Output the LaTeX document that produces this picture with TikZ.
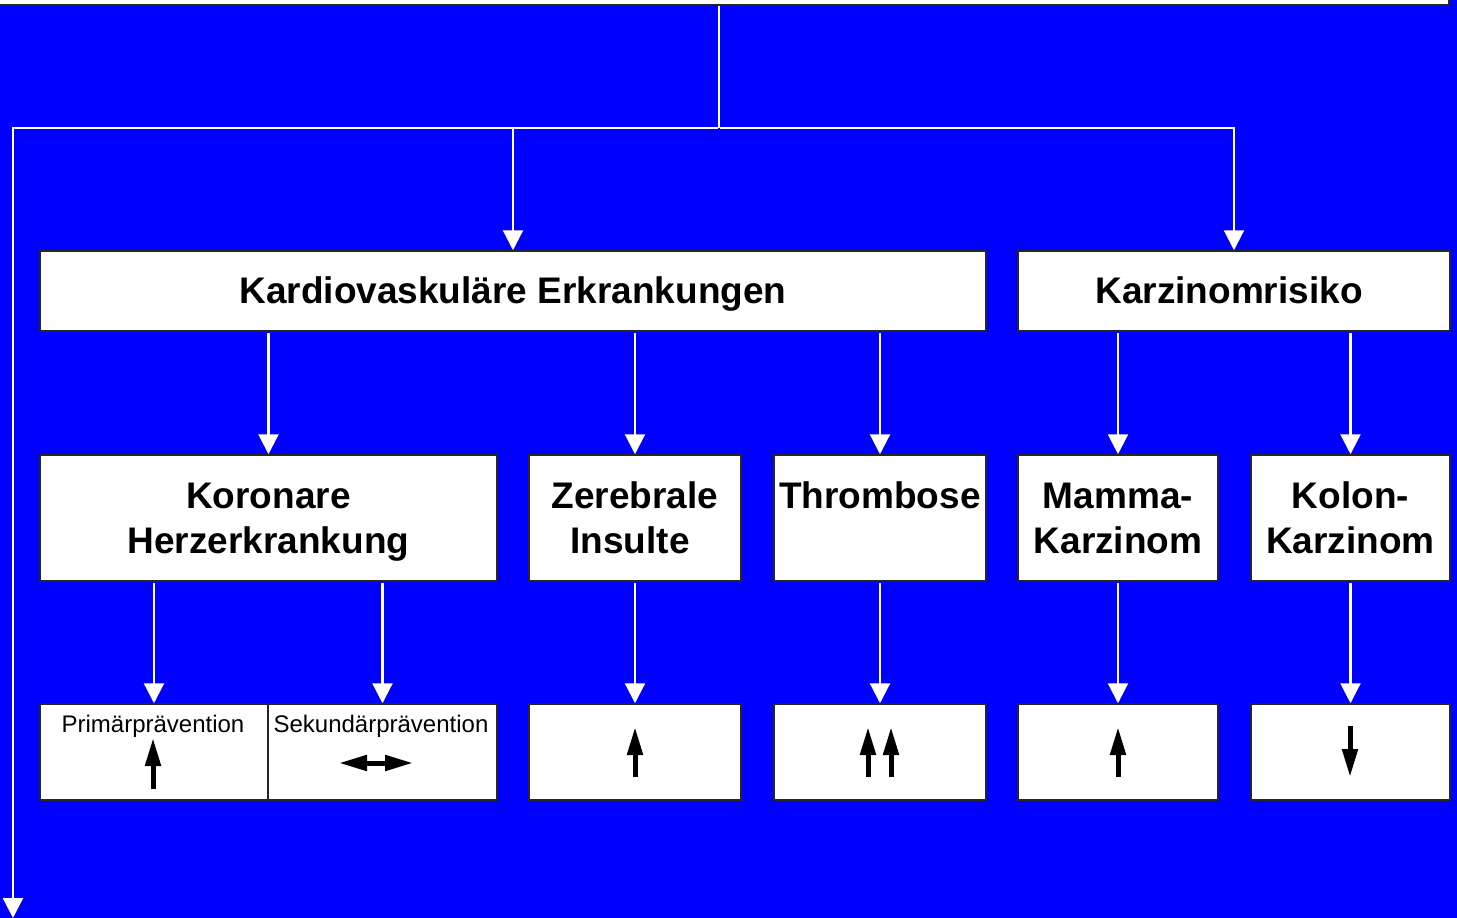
\documentclass[tikz,border=0pt]{standalone}
\usepackage{fontspec}
\setmainfont{Liberation Sans}
\usetikzlibrary{
  arrows.meta,
  positioning
}
\newcommand{\linestrut}{\rule[-10pt]{0pt}{45pt}}

\begin{document}
\begin{tikzpicture}[x=1pt,y=-1pt,
  box/.style={rectangle,draw=black!85,fill=white,line width=1.5pt,inner sep=2pt,align=center,
    font=\bfseries\fontsize{37}{45}\selectfont},
  wire/.style={draw=white,line width=2.2pt},
  link/.style={wire,shorten <=1pt,-{Triangle[length=20pt,width=20pt]}},
  sym/.style={draw=black,line width=5pt,-{Triangle[length=28pt,width=15pt]}},
  small/.style={inner sep=0pt,font=\fontsize{24}{28}\selectfont}]
  \fill[blue] (0,0) rectangle (1457,918);
  \useasboundingbox (0,0) rectangle (1457,918);
  % top
  \node[box,minimum width=1460pt,minimum height=60pt] (top) at (719,-25) {};
  % level 1
  \node[box,minimum width=946pt,minimum height=80pt] (kardio) at (513,291) {\linestrut Kardiovaskuläre Erkrankungen};
  \node[box,minimum width=432pt,minimum height=80pt] (karzino) at (1234,291) {\linestrut Karzinomrisiko\hspace{10pt}};
  % level 2
  \node[box,minimum width=457pt,minimum height=126pt] (koronar) at (268.5,518) {\linestrut Koronare\\\linestrut Herzerkrankung};
  \node[box,minimum width=212pt,minimum height=126pt] (zerebral) at (635,518) {\linestrut Zerebrale\\\linestrut Insulte\hspace*{10pt}};
  \node[box,minimum width=212pt,minimum height=126pt] (thromb) at (880,518) {\linestrut Thrombose\\\linestrut};
  \node[box,minimum width=200pt,minimum height=126pt] (mamma) at (1118,518) {\linestrut Mamma-\\\linestrut Karzinom};
  \node[box,minimum width=199pt,minimum height=126pt] (kolon) at (1350.5,518) {\linestrut Kolon-\\\linestrut Karzinom};
  % level 3
  \node[box,minimum width=228pt,minimum height=96pt] (prim) at (154,752) {};
  \node[box,minimum width=229pt,minimum height=96pt] (sek) at (382.5,752) {};
  \node[box,minimum width=212pt,minimum height=96pt] (zer3) at (635,752) {};
  \node[box,minimum width=212pt,minimum height=96pt] (thr3) at (880,752) {};
  \node[box,minimum width=200pt,minimum height=96pt] (mam3) at (1118,752) {};
  \node[box,minimum width=199pt,minimum height=96pt] (kol3) at (1350.5,752) {};
  \node[small,anchor=base] (primlabel) at (153,732) {Primärprävention};
  \node[small,anchor=base] (seklabel) at (381,732) {Sekundärprävention};
  % trend arrows
  \draw[sym] (153,789) -- (153,738);
  \draw[sym,{Triangle[length=28pt,width=15pt]}-{Triangle[length=28pt,width=15pt]}] (339,763) -- (413,763);
  \foreach \x in {635,868,891,1118}
    \draw[sym] (\x,777) -- (\x,727);
  \draw[sym] (1350,726) -- (1350,777);
  % connectors
  \coordinate (split) at (719,128);
  \coordinate (exit) at (13,918);
  \draw[wire] (top.south) -- (split);
  \draw[link] (split) -| (kardio.north);
  \draw[link] (split) -| (karzino.north);
  \draw[link] (split) -| (exit);
  \foreach \a/\b in {kardio/koronar,kardio/zerebral,kardio/thromb,karzino/mamma,karzino/kolon,
    koronar/prim,koronar/sek,zerebral/zer3,thromb/thr3,mamma/mam3,kolon/kol3}
    \draw[link] (\a.south -| \b.north) -- (\b.north);
\end{tikzpicture}
\end{document}
